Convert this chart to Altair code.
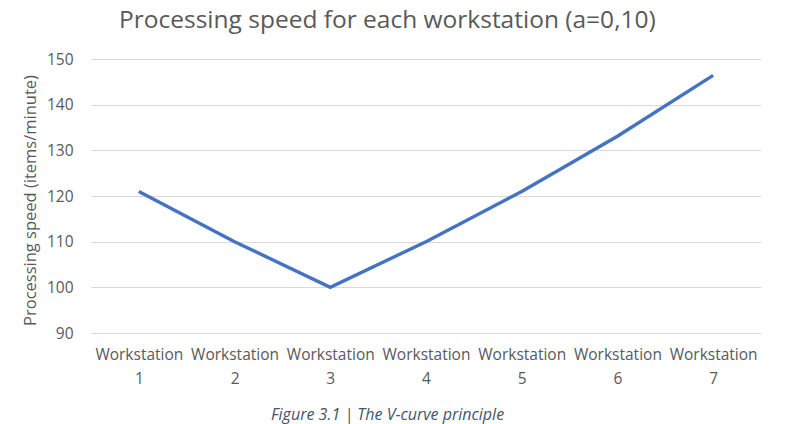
import altair as alt
import pandas as pd

stations = ["Workstation 1", "Workstation 2", "Workstation 3", "Workstation 4",
            "Workstation 5", "Workstation 6", "Workstation 7"]
speeds = [121, 110, 100, 110, 121, 133.1, 146.41]

df = pd.DataFrame({"station": stations, "speed": speeds})

FONT = "Open Sans"
GRAY = "#595959"

chart = alt.Chart(df).mark_line(color="#4472C4", strokeWidth=3.4).encode(
    x=alt.X("station:N", sort=stations,
            scale=alt.Scale(type="point", padding=0.5),
            axis=alt.Axis(
                title="Figure 3.1 | The V-curve principle",
                titleFont=FONT, titleFontSize=16, titleFontStyle="italic",
                titleFontWeight="normal", titleColor="#44546A",
                titleX=296, titleY=81, titleBaseline="middle",
                labelExpr="split(datum.label, ' ')",
                labelAngle=0, labelFont=FONT, labelFontSize=15.5,
                labelColor=GRAY, labelLineHeight=24, labelPadding=14,
                domain=False, ticks=False, grid=False)),
    y=alt.Y("speed:Q",
            scale=alt.Scale(domain=[90, 150], nice=False, zero=False),
            axis=alt.Axis(
                title="Processing speed (items/minute)",
                titleFont=FONT, titleFontSize=16.5, titleFontWeight="normal",
                titleColor=GRAY, titleX=-61, titleY=141,
                titleBaseline="middle", titleAlign="center",
                values=[90, 100, 110, 120, 130, 140, 150],
                labelFont=FONT, labelFontSize=15.5, labelColor=GRAY,
                labelPadding=18,
                domain=False, ticks=False, grid=True,
                gridColor="#D9D9D9", gridWidth=1)),
).properties(
    width=670, height=274,
    autosize=alt.AutoSizeParams(type="none"),
    padding={"left": 91, "top": 59, "right": 24, "bottom": 91},
    background="white",
    title=alt.TitleParams(
        "Processing speed for each workstation (a=0,10)",
        font=FONT, fontSize=24.5, fontWeight="normal", color=GRAY,
        anchor="start", frame="group", dx=28, offset=19),
).configure_view(stroke=None)

chart.save("out.html", embed_options={"renderer": "svg", "actions": False})
